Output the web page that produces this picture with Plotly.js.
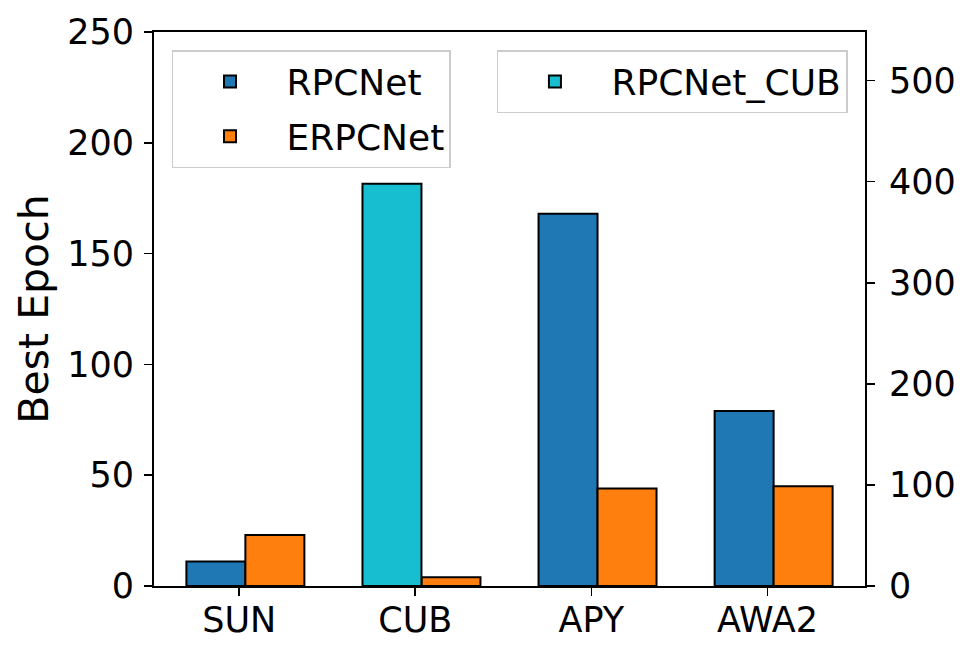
<!DOCTYPE html>
<html>
<head>
<meta charset="utf-8">
<script src="https://cdn.plot.ly/plotly-3.0.1.min.js"></script>
<style>html,body{margin:0;padding:0;background:#fff;}#chart{width:970px;height:657px;}</style>
</head>
<body>
<div id="chart"></div>
<script>
var categories = ['SUN', 'CUB', 'APY', 'AWA2'];
var rpcnetValues = [11, null, 168, 79];
var erpcnetValues = [23, 4, 44, 45];
var rpcnetCubCategories = ['CUB'];
var rpcnetCubValues = [398];
var leftTicks = [0, 50, 100, 150, 200, 250];
var rightTicks = [0, 100, 200, 300, 400, 500];

var FONT = 'DejaVu Sans, sans-serif';
var TICK = 35;
var edge = {color: '#000', width: 2};
var W = 0.335;

var traces = [
  {type: 'bar', name: 'RPCNet', x: categories, y: rpcnetValues,
   width: W, offset: -0.30, marker: {color: '#1f77b4', line: edge},
   legend: 'legend', legendgroup: 'a', yaxis: 'y'},
  {type: 'bar', name: 'ERPCNet', x: categories, y: erpcnetValues,
   width: W, offset: 0.035, marker: {color: '#ff7f0e', line: edge},
   legend: 'legend', legendgroup: 'b', yaxis: 'y'},
  {type: 'bar', name: 'RPCNet_CUB', x: rpcnetCubCategories, y: rpcnetCubValues,
   width: W, offset: -0.30, marker: {color: '#17becf', line: edge},
   legend: 'legend2', yaxis: 'y2', xaxis: 'x'}
];

var layout = {
  width: 970, height: 657,
  margin: {l: 154, r: 105, t: 32, b: 71, pad: 0},
  paper_bgcolor: '#fff', plot_bgcolor: '#fff',
  font: {family: FONT, size: TICK, color: '#000'},
  barmode: 'overlay',
  showlegend: true,
  xaxis: {
    type: 'category', categoryorder: 'array', categoryarray: categories,
    range: [-0.484, 3.554], showgrid: false, zeroline: false,
    showline: true, linecolor: '#000', linewidth: 2, mirror: true,
    ticks: 'outside', ticklen: 8, tickwidth: 1.6, tickcolor: '#000',
    tickfont: {family: FONT, size: TICK, color: '#000'}, ticklabelstandoff: -6
  },
  yaxis: {
    range: [0, 250], tickvals: leftTicks, showgrid: false, zeroline: false,
    showline: true, linecolor: '#000', linewidth: 2,
    ticks: 'outside', ticklen: 8, tickwidth: 1.6, tickcolor: '#000',
    tickfont: {family: FONT, size: TICK, color: '#000'}, ticklabelstandoff: 3,
    title: {text: 'Best Epoch', font: {family: FONT, size: 41, color: '#000'}, standoff: 6}
  },
  yaxis2: {
    overlaying: 'y', side: 'right', anchor: 'x',
    range: [0, 548], tickvals: rightTicks, showgrid: false, zeroline: false,
    showline: true, linecolor: '#000', linewidth: 2,
    ticks: 'outside', ticklen: 8, tickwidth: 1.6, tickcolor: '#000',
    tickfont: {family: FONT, size: TICK, color: '#000'}, ticklabelstandoff: 7
  },
  legend: {
    x: 0.0253, y: 0.9675, xanchor: 'left', yanchor: 'top',
    bgcolor: 'rgba(255,255,255,0.8)', bordercolor: '#cccccc', borderwidth: 1.5,
    font: {family: FONT, size: 36, color: '#000'},
    traceorder: 'grouped', tracegroupgap: 5, itemwidth: 103
  },
  legend2: {
    x: 0.976, y: 0.9675, xanchor: 'right', yanchor: 'top',
    bgcolor: 'rgba(255,255,255,0.8)', bordercolor: '#cccccc', borderwidth: 1.5,
    font: {family: FONT, size: 36, color: '#000'}, itemwidth: 103
  }
};

Plotly.newPlot('chart', traces, layout, {displayModeBar: false, staticPlot: true});
</script>
</body>
</html>
